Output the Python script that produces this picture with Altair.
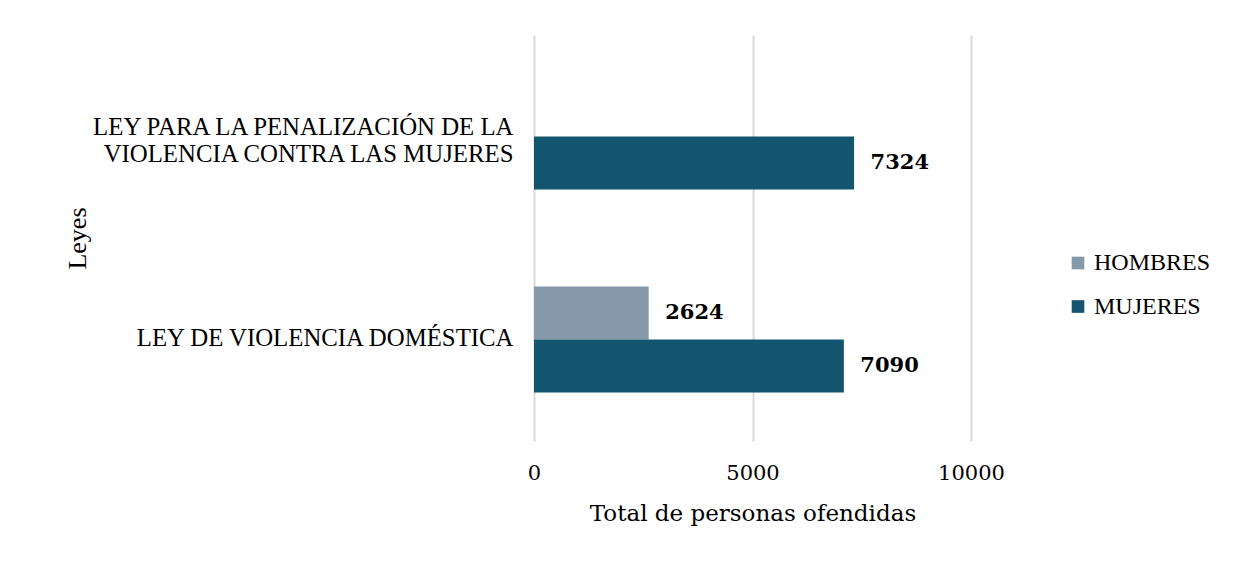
import altair as alt
import pandas as pd

laws = ["LEY PARA LA PENALIZACIÓN DE LA VIOLENCIA CONTRA LAS MUJERES",
        "LEY DE VIOLENCIA DOMÉSTICA"]
law_lines = [["LEY PARA LA PENALIZACIÓN DE LA", "VIOLENCIA CONTRA LAS MUJERES"],
             ["LEY DE VIOLENCIA DOMÉSTICA"]]
series = ["HOMBRES", "MUJERES"]
hombres = [None, 2624]
mujeres = [7324, 7090]
colors = ["#8699ab", "#13546f"]
x_ticks = [0, 5000, 10000]

rows = []
for i, law in enumerate(laws):
    for s, vals in zip(series, [hombres, mujeres]):
        if vals[i] is not None:
            rows.append({"ley": law, "sexo": s, "valor": vals[i]})
df = pd.DataFrame(rows)

label_expr = "datum.label == '%s' ? ['%s', '%s'] : datum.label" % (
    laws[0], law_lines[0][0], law_lines[0][1])

SERIF = "Liberation Serif"
GEO = "DejaVu Serif"

base = alt.Chart(df).encode(
    y=alt.Y("ley:N", sort=laws,
            scale=alt.Scale(paddingInner=0, paddingOuter=0),
            axis=alt.Axis(title="Leyes", labelExpr=label_expr, labelFont=SERIF,
                          labelFontSize=24.8, labelColor="black", labelLimit=800,
                          labelLineHeight=27, labelPadding=21,
                          labelOffset={"condition": {"test": "datum.value == '%s'" % laws[0],
                                                     "value": -9},
                                       "value": -1},
                          domain=False, ticks=False, grid=False, titleFont=SERIF,
                          titleFontSize=26, titleFontWeight="normal",
                          titleColor="black", titleX=-457, titleY=203,
                          titleAngle=-90, titleAlign="center",
                          titleBaseline="middle")),
    yOffset=alt.YOffset("sexo:N", sort=series,
                        scale=alt.Scale(paddingInner=0, paddingOuter=0.915)),
    x=alt.X("valor:Q", scale=alt.Scale(domain=[0, 10000], nice=False),
            axis=alt.Axis(title="Total de personas ofendidas", values=x_ticks,
                          format="d", labelFont=GEO, labelFontSize=21,
                          labelColor="black", labelBaseline="alphabetic",
                          labelPadding=38, labelFlush=False, labelBound=False,
                          domain=False, ticks=False,
                          grid=True, gridColor="#d9d9d9", gridWidth=2,
                          titleFont=GEO, titleFontSize=23,
                          titleFontWeight="normal", titleColor="black",
                          titleBaseline="alphabetic", titleY=79)),
)

bars = base.mark_bar().encode(
    color=alt.Color("sexo:N", sort=series,
                    scale=alt.Scale(domain=series, range=colors),
                    legend=alt.Legend(title=None, orient="none", legendX=532,
                                      legendY=216, symbolType="square",
                                      symbolSize=160, symbolStrokeWidth=0,
                                      labelFont=SERIF, labelFontSize=24,
                                      labelColor="black", labelOffset=4,
                                      rowPadding=19.5, padding=0,
                                      labelLimit=400))
)

text = base.mark_text(align="left", baseline="middle", dx=16.5, font=GEO,
                      fontWeight="bold", fontSize=21).encode(
    text=alt.Text("valor:Q", format="d"),
    color=alt.value("black"),
)

chart = (bars + text).properties(
    width=437, height=406,
    background="white",
    autosize=alt.AutoSizeParams(type="none"),
    padding={"left": 526, "top": 27, "right": 255, "bottom": 112},
).configure_view(stroke=None)

chart.save("out.html", embed_options={"renderer": "svg", "actions": False})
